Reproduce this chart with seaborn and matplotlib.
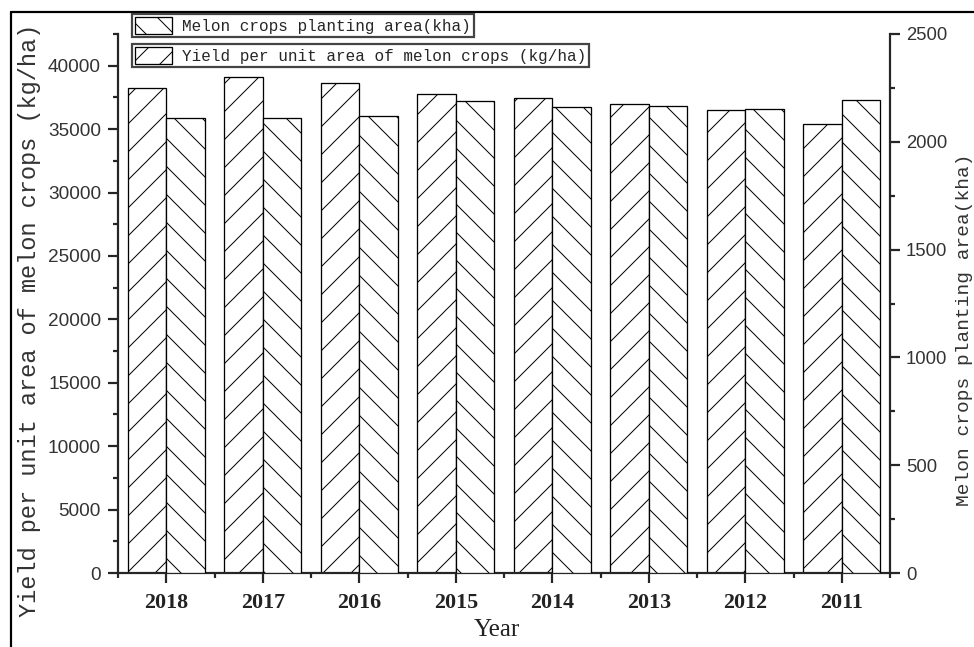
import numpy as np
import pandas as pd
import matplotlib.pyplot as plt
import seaborn as sns
from matplotlib.patches import Patch
from matplotlib.lines import Line2D
from matplotlib.ticker import MultipleLocator, FixedLocator

# data
years = ["2018", "2017", "2016", "2015", "2014", "2013", "2012", "2011"]
yield_kg_ha = [38250, 39100, 38600, 37780, 37480, 36990, 36540, 35410]
area_kha = [2112, 2112, 2118, 2188, 2161, 2168, 2150, 2195]

YIELD = "Yield per unit area of melon crops (kg/ha)"
AREA = "Melon crops planting area(kha)"

W, H, DPI = 974, 647, 84


def px(v):
    # pixels -> points at this dpi
    return v * 72.0 / DPI


sns.set_style("ticks")
plt.rcParams["font.family"] = ["Liberation Serif", "DejaVu Serif"]
plt.rcParams["hatch.linewidth"] = px(1.0)
plt.rcParams["hatch.color"] = "#222222"

df = pd.DataFrame({
    "Year": years * 2,
    "series": [YIELD] * 8 + [AREA] * 8,
    "left": yield_kg_ha + [np.nan] * 8,
    "right": [np.nan] * 8 + area_kha,
})

fig = plt.figure(figsize=(W / DPI, H / DPI), dpi=DPI)
ax = fig.add_axes([118 / W, 1 - 573 / H, (890 - 118) / W, (573 - 34) / H])
ax2 = ax.twinx()

order = [YIELD, AREA]
pal = {YIELD: "white", AREA: "white"}
sns.barplot(data=df, x="Year", y="left", hue="series", order=years, hue_order=order,
            palette=pal, saturation=1, edgecolor="black", linewidth=px(1.3),
            hatch="/", errorbar=None, legend=False, ax=ax)
sns.barplot(data=df, x="Year", y="right", hue="series", order=years, hue_order=order,
            palette=pal, saturation=1, edgecolor="black", linewidth=px(1.3),
            hatch="\\", errorbar=None, legend=False, ax=ax2)

ax.set_xlim(-0.5, 7.5)
ax.set_ylim(0, 42500)
ax2.set_ylim(0, 2500)
ax.yaxis.set_major_locator(MultipleLocator(5000))
ax.yaxis.set_minor_locator(MultipleLocator(2500))
ax2.yaxis.set_major_locator(MultipleLocator(500))
ax2.yaxis.set_minor_locator(MultipleLocator(250))
ax.xaxis.set_minor_locator(FixedLocator(np.arange(-0.5, 8, 1)))

ax.set_xlabel("")
ax.set_ylabel("")
ax2.set_ylabel("")

for a in (ax, ax2):
    a.spines["top"].set_visible(False)
    for s in a.spines.values():
        s.set_linewidth(px(2.2))
ax.spines["right"].set_visible(False)
ax2.spines["left"].set_visible(False)
ax2.spines["bottom"].set_visible(False)

for a in (ax, ax2):
    a.tick_params(which="major", direction="out", length=px(10), width=px(2.2))
    a.tick_params(which="minor", direction="out", length=px(5), width=px(2.2))
ax.tick_params(axis="x", pad=px(10), labelsize=px(22))
ax.tick_params(axis="y", pad=px(7), labelsize=px(19))
ax2.tick_params(axis="y", pad=px(6), labelsize=px(18.5))
for lab in ax.get_yticklabels() + ax2.get_yticklabels():
    lab.set_family(["Liberation Sans", "DejaVu Sans"])
    lab.set_color("#333333")
for lab in ax.get_xticklabels():
    lab.set_color("#222222")
    lab.set_fontweight("bold")

# axis titles
fig.text(30 / W, 1 - 320 / H, YIELD, rotation=90, ha="center", va="center",
         family=["Liberation Mono", "DejaVu Sans Mono"], fontsize=px(23.6), color="#333333")
fig.text(964.5 / W, 1 - 330 / H, AREA, rotation=90, ha="center", va="center",
         family=["Liberation Mono", "DejaVu Sans Mono"], fontsize=px(19.5), color="#333333")
fig.text(497 / W, 1 - 630 / H, "Year", ha="center", va="center",
         fontsize=px(25), color="#222222")

# two boxed legend entries
leg_kw = dict(loc="upper left", frameon=True, fancybox=False, borderaxespad=0,
              prop={"family": ["Liberation Mono", "DejaVu Sans Mono"], "size": px(16)},
              handlelength=2.3, handleheight=1.25, handletextpad=0.6, borderpad=0.2)
h_area = Patch(facecolor="white", edgecolor="black", hatch="\\", linewidth=px(1.3))
h_yield = Patch(facecolor="white", edgecolor="black", hatch="/", linewidth=px(1.3))
leg1 = fig.legend([h_area], [AREA], bbox_to_anchor=(132 / W, 1 - 14 / H), **leg_kw)
leg2 = fig.legend([h_yield], [YIELD], bbox_to_anchor=(132 / W, 1 - 44 / H), **leg_kw)
for lg in (leg1, leg2):
    lg.get_frame().set_edgecolor("#444444")
    lg.get_frame().set_linewidth(px(2.2))
    lg.get_frame().set_alpha(1)

# border of the clipped figure (top and left)
fig.add_artist(Line2D([11 / W, 1], [1 - 12 / H, 1 - 12 / H], color="black", lw=px(2.2),
                      transform=fig.transFigure))
fig.add_artist(Line2D([11 / W, 11 / W], [0, 1 - 12 / H], color="black", lw=px(2.2),
                      transform=fig.transFigure))

fig.savefig("out.png", dpi=DPI)
